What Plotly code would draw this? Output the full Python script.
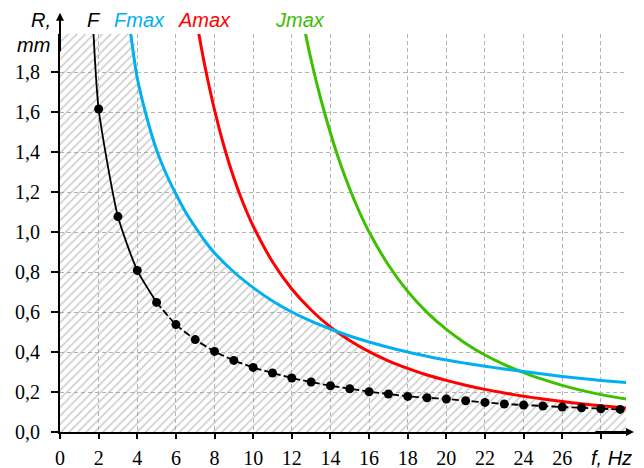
import plotly.graph_objects as go

# ---- data ----
# F (black, dotted points)
F_f = [2, 3, 4, 5, 6, 7, 8, 9, 10, 11, 12, 13, 14, 15, 16, 17, 18, 19, 20,
       21, 22, 23, 24, 25, 26, 27, 28, 29]
F_r = [1.615, 1.077, 0.808, 0.648, 0.537, 0.462, 0.403, 0.358, 0.323, 0.295,
       0.270, 0.250, 0.231, 0.2165, 0.2015, 0.190, 0.178, 0.1715, 0.165, 0.1565,
       0.148, 0.140, 0.135, 0.130, 0.125, 0.1215, 0.1165, 0.113]
F_top_f, F_top_r = 1.73, 2.0

# Fmax (blue)
fmax_f = [3.65, 4.0, 4.5, 5.0, 5.5, 6.0, 6.5, 7.0, 7.5, 8.0, 9.0, 10.0, 11.0, 12.0,
          13.0, 14.0, 15.0, 16.0, 17.0, 18.0, 19.0, 20.0, 21.0, 22.0, 23.0, 24.0,
          25.0, 26.0, 27.0, 28.0, 29.3]
fmax_r = [2.00, 1.77, 1.57, 1.41, 1.29, 1.19, 1.10, 1.025, 0.955, 0.895, 0.80,
          0.722, 0.655, 0.600, 0.554, 0.515, 0.480, 0.450, 0.424, 0.400, 0.379,
          0.360, 0.344, 0.329, 0.315, 0.302, 0.290, 0.278, 0.268, 0.258, 0.247]

# Amax (red)
amax_f = [7.17, 7.5, 8.0, 8.5, 9.0, 9.5, 10.0, 11.0, 12.0, 13.0, 14.0, 15.0, 16.0,
          17.0, 18.0, 19.0, 20.0, 21.0, 22.0, 23.0, 24.0, 25.0, 26.0, 27.0, 28.0,
          29.3]
amax_r = [2.00, 1.83, 1.61, 1.425, 1.27, 1.14, 1.03, 0.851, 0.715, 0.610, 0.525,
          0.458, 0.402, 0.356, 0.318, 0.285, 0.258, 0.234, 0.213, 0.195, 0.179,
          0.165, 0.152, 0.141, 0.131, 0.120]

# Jmax (green)
jmax_f = [12.69, 13.0, 13.5, 14.0, 14.5, 15.0, 15.5, 16.0, 17.0, 18.0, 19.0, 20.0,
          21.0, 22.0, 23.0, 24.0, 25.0, 26.0, 27.0, 28.0, 29.3]
jmax_r = [2.00, 1.86, 1.665, 1.495, 1.345, 1.215, 1.10, 1.00, 0.835, 0.703, 0.598,
          0.513, 0.443, 0.385, 0.337, 0.297, 0.263, 0.233, 0.208, 0.187, 0.165]

# crossing of Fmax and Amax
cross_f, cross_r = 14.05, 0.517

x_tickvals = [0, 2, 4, 6, 8, 10, 12, 14, 16, 18, 20, 22, 24, 26, 28]
x_ticktext = ["0", "2", "4", "6", "8", "10", "12", "14", "16", "18", "20",
              "22", "24", "26", ""]
y_tickvals = [0.0, 0.2, 0.4, 0.6, 0.8, 1.0, 1.2, 1.4, 1.6, 1.8]
y_ticktext = ["0,0", "0,2", "0,4", "0,6", "0,8", "1,0", "1,2", "1,4", "1,6", "1,8"]

BLUE = "#00B0F0"
RED = "#FF0000"
GREEN = "#3CC000"
SANS = "Liberation Sans, Arial, sans-serif"
SERIF = "Liberation Serif, Times New Roman, serif"

# hatch boundary = min(Fmax, Amax)
hx = [0.0] + [f for f in fmax_f if f < cross_f] + [cross_f] + [f for f in amax_f if f > cross_f]
hy = [fmax_r[0]] + [r for f, r in zip(fmax_f, fmax_r) if f < cross_f] + [cross_r] + \
     [r for f, r in zip(amax_f, amax_r) if f > cross_f]

fig = go.Figure()

fig.add_trace(go.Scatter(
    x=hx, y=hy, mode="lines", fill="tozeroy",
    line=dict(width=0, color="rgba(0,0,0,0)", shape="spline", smoothing=0.8),
    fillcolor="rgba(0,0,0,0)",
    fillpattern=dict(shape="/", fgcolor="#9a9a9a", size=6, solidity=0.26,
                     fillmode="overlay"),
    hoverinfo="skip", showlegend=False))

SM = 0.9
fig.add_trace(go.Scatter(x=jmax_f, y=jmax_r, mode="lines",
                         line=dict(color=GREEN, width=3, shape="spline", smoothing=SM),
                         showlegend=False))
fig.add_trace(go.Scatter(x=amax_f, y=amax_r, mode="lines",
                         line=dict(color=RED, width=3, shape="spline", smoothing=SM),
                         showlegend=False))
fig.add_trace(go.Scatter(x=fmax_f, y=fmax_r, mode="lines",
                         line=dict(color=BLUE, width=3, shape="spline", smoothing=SM),
                         showlegend=False))

# F: solid top part, dashed rest, dots
fig.add_trace(go.Scatter(x=[F_top_f] + F_f[:4], y=[F_top_r] + F_r[:4], mode="lines",
                         line=dict(color="black", width=1.8, shape="spline", smoothing=0.6),
                         showlegend=False))
fig.add_trace(go.Scatter(x=F_f[3:], y=F_r[3:], mode="lines",
                         line=dict(color="black", width=1.8, shape="spline", smoothing=0.6,
                                   dash="7px,3px"),
                         showlegend=False))
fig.add_trace(go.Scatter(x=F_f, y=F_r, mode="markers",
                         marker=dict(color="black", size=9), showlegend=False))

grid = dict(showgrid=True, gridcolor="#b3b3b3", gridwidth=1, griddash="4px,3px",
            zeroline=False, showline=True, linecolor="black", linewidth=2,
            ticks="outside", tickcolor="black", tickwidth=1.5, automargin=False,
            tickfont=dict(family=SERIF, size=20, color="black"))

fig.update_xaxes(range=[0, 29.3], tickmode="array", tickvals=x_tickvals,
                 ticktext=x_ticktext, ticklen=5, ticklabelstandoff=2, **grid)
fig.update_yaxes(range=[0, 1.99], tickmode="array", tickvals=y_tickvals,
                 ticktext=y_ticktext, ticklen=7, ticklabelstandoff=7, **grid)

def lab(text, x, y, color="black"):
    fig.add_annotation(text="<i>" + text + "</i>", x=x, y=y, xref="paper", yref="paper",
                       xanchor="center", yanchor="middle", showarrow=False,
                       font=dict(color=color, family=SANS, size=20))

lab("R,", -0.0336, 1.035)
lab("mm", -0.0468, 0.972)
lab("F", 0.0592, 1.035)
lab("Fmax", 0.1396, 1.035, BLUE)
lab("Amax", 0.2553, 1.035, RED)
lab("Jmax", 0.4249, 1.035, GREEN)
lab("f, Hz", 0.9744, -0.066)

# axis arrows
fig.add_annotation(x=1.0141, y=0, xref="paper", yref="paper", ax=-40, ay=0,
                   axref="pixel", ayref="pixel", showarrow=True, arrowhead=2,
                   arrowsize=0.8, arrowwidth=2, arrowcolor="black", text="")
fig.add_annotation(x=0, y=1.0535, xref="paper", yref="paper", ax=0, ay=40,
                   axref="pixel", ayref="pixel", showarrow=True, arrowhead=2,
                   arrowsize=0.8, arrowwidth=2, arrowcolor="black", text="")

fig.update_layout(width=644, height=468, margin=dict(l=60, r=18, t=34, b=36),
                  plot_bgcolor="white", paper_bgcolor="white", showlegend=False,
                  font=dict(family=SERIF, size=20, color="black"))

fig.write_html("out.html")
